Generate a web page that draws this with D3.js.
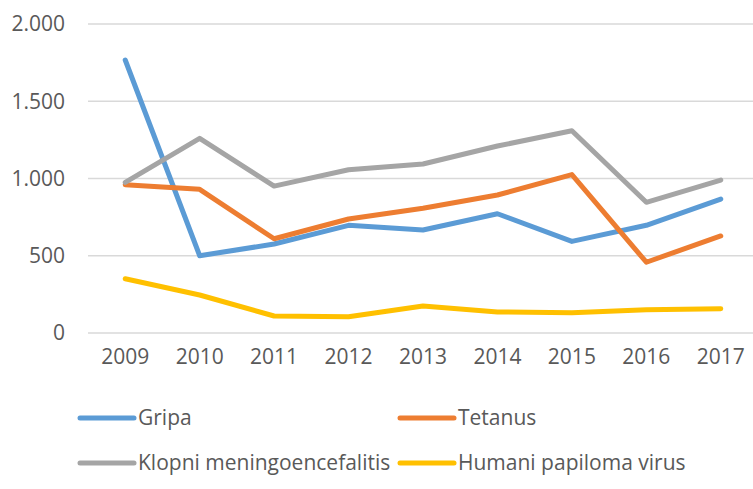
<!DOCTYPE html>
<html>
<head>
<meta charset="utf-8">
<script src="https://cdn.jsdelivr.net/npm/d3@7"></script>
<style>
  body { margin: 0; background: #fff; }
  svg text { font-family: "Open Sans", sans-serif; fill: #595959; }
</style>
</head>
<body>
<div id="chart"></div>
<script>
// data
var years = ["2009","2010","2011","2012","2013","2014","2015","2016","2017"];
var gripa   = [1767, 500, 576, 697, 667, 772, 593, 697, 867];
var tetanus = [960, 930, 610, 738, 807, 893, 1025, 458, 628];
var klopni  = [975, 1260, 951, 1057, 1094, 1210, 1309, 846, 990];
var hpv     = [351, 246, 110, 105, 175, 136, 131, 151, 157];
var yTicks  = [0, 500, 1000, 1500, 2000];

var seriesNames  = ["Gripa", "Tetanus", "Klopni meningoencefalitis", "Humani papiloma virus"];
var seriesColors = ["#5B9BD5", "#ED7D31", "#A5A5A5", "#FFC000"];
var seriesValues = [gripa, tetanus, klopni, hpv];

var width = 753, height = 489;
var plot = {left: 88, right: 758, top: 24, bottom: 333};

var svg = d3.select("#chart").append("svg")
	.attr("width", width)
	.attr("height", height);

var x = d3.scalePoint().domain(years).range([plot.left, plot.right]).padding(0.5);
var y = d3.scaleLinear().domain([0, 2000]).range([plot.bottom, plot.top]);

// gridlines
svg.selectAll(".grid")
	.data(yTicks)
	.enter().append("line")
	.attr("class", "grid")
	.attr("x1", plot.left)
	.attr("x2", width)
	.attr("y1", function(d) { return y(d); })
	.attr("y2", function(d) { return y(d); })
	.style("stroke", "#D9D9D9")
	.style("stroke-width", 1.5);

// y labels (thousands separated with a dot)
var fmt = d3.formatLocale({decimal: ",", thousands: ".", grouping: [3], currency: ["", ""]}).format(",");
svg.selectAll(".ylab")
	.data(yTicks)
	.enter().append("text")
	.attr("class", "ylab")
	.attr("x", 65)
	.attr("y", function(d) { return y(d); })
	.attr("dy", "0.35em")
	.style("text-anchor", "end")
	.style("font-size", "21px")
	.text(function(d) { return fmt(d); });

// x labels
svg.selectAll(".xlab")
	.data(years)
	.enter().append("text")
	.attr("class", "xlab")
	.attr("x", function(d) { return x(d); })
	.attr("y", 357)
	.attr("dy", "0.35em")
	.style("text-anchor", "middle")
	.style("font-size", "21px")
	.text(function(d) { return d; });

// the lines
var line = d3.line()
	.x(function(d, i) { return x(years[i]); })
	.y(function(d) { return y(d); });

svg.selectAll(".series")
	.data(seriesValues)
	.enter().append("path")
	.attr("class", "series")
	.attr("d", function(d) { return line(d); })
	.style("fill", "none")
	.style("stroke", function(d, i) { return seriesColors[i]; })
	.style("stroke-width", 5)
	.style("stroke-linecap", "round")
	.style("stroke-linejoin", "round");

// legend, 2 columns
var legend = svg.selectAll(".legend")
	.data(seriesNames)
	.enter().append("g")
	.attr("class", "legend")
	.attr("transform", function(d, i) {
		return "translate(" + (i % 2 == 0 ? 80 : 400) + "," + (i < 2 ? 418 : 463) + ")";
	});

legend.append("line")
	.attr("x1", 0).attr("x2", 54)
	.attr("y1", 0).attr("y2", 0)
	.style("stroke", function(d, i) { return seriesColors[i]; })
	.style("stroke-width", 5)
	.style("stroke-linecap", "round");

legend.append("text")
	.attr("x", 58)
	.attr("y", 0)
	.attr("dy", "0.35em")
	.style("font-size", "21px")
	.text(function(d) { return d; });
</script>
</body>
</html>
